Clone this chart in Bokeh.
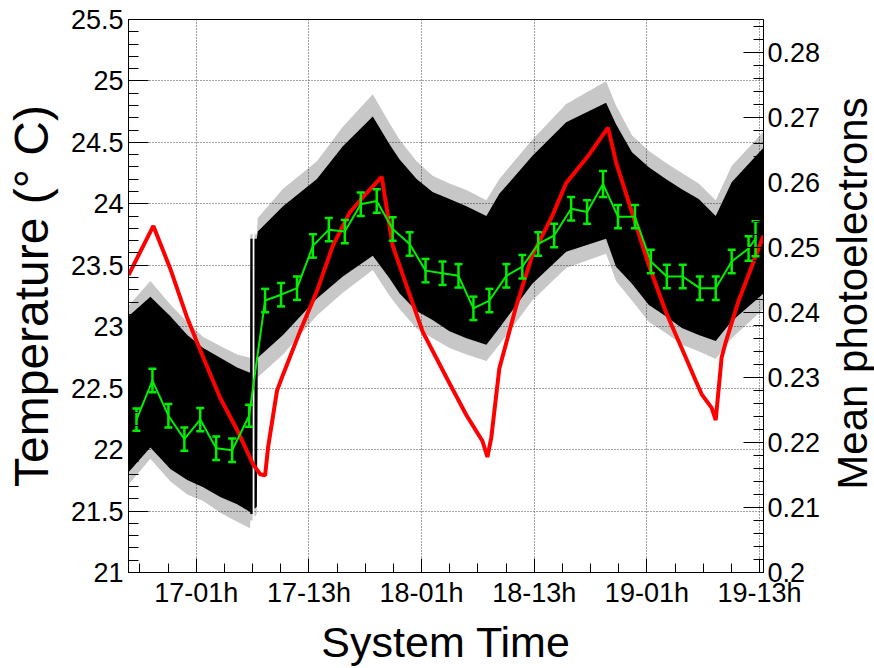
import numpy as np
from bokeh.plotting import figure
from bokeh.layouts import row
from bokeh.models import Range1d, LinearAxis, FixedTicker, ColumnDataSource, Label
from bokeh.embed import file_html
from bokeh.resources import INLINE

# ---------------- data (time in hours since day 16, 00h) ----------------
time_ticks = [25, 37, 49, 61, 73, 85]
time_tick_labels = ["17-01h", "17-13h", "18-01h", "18-13h", "19-01h", "19-13h"]
temp_ticks = [21, 21.5, 22, 22.5, 23, 23.5, 24, 24.5, 25, 25.5]
temp_tick_labels = ["21", "21.5", "22", "22.5", "23", "23.5", "24", "24.5", "25", "25.5"]
pe_ticks = [0.2, 0.21, 0.22, 0.23, 0.24, 0.25, 0.26, 0.27, 0.28]
pe_tick_labels = ["0.2", "0.21", "0.22", "0.23", "0.24", "0.25", "0.26", "0.27", "0.28"]

# black event cloud (mean photoelectrons per event): dense core and sparse fringe
band1_time = [17.78, 20.11, 22.24, 24.04, 25.74, 27.55, 29.35, 30.73, 30.76, 31.00]
band1_upper = [0.2394, 0.2424, 0.2394, 0.2365, 0.2345, 0.2330, 0.2315, 0.2307, 0.2513, 0.2513]
band1_lower = [0.2154, 0.2192, 0.2159, 0.2142, 0.2131, 0.2116, 0.2105, 0.2093, 0.2090, 0.2090]
band1_outer_upper = [0.2410, 0.2448, 0.2412, 0.2385, 0.2362, 0.2348, 0.2335, 0.2330, 0.2520, 0.2520]
band1_outer_lower = [0.2135, 0.2175, 0.2140, 0.2120, 0.2110, 0.2092, 0.2078, 0.2068, 0.2080, 0.2080]

band2_time = [31.20, 31.45, 31.55, 34.24, 37.85, 40.61, 43.80, 45.60, 46.66, 48.47, 50.17,
              51.97, 53.78, 55.90, 57.28, 60.79, 64.40, 68.65, 69.71, 71.41, 73.21, 75.02,
              76.72, 78.52, 80.33, 82.03, 85.42]
band2_upper = [0.2513, 0.2513, 0.2524, 0.2563, 0.2605, 0.2655, 0.2701, 0.2658, 0.2635, 0.2605,
               0.2585, 0.2574, 0.2563, 0.2548, 0.2582, 0.2640, 0.2692, 0.2722, 0.2689, 0.2646,
               0.2623, 0.2605, 0.2589, 0.2574, 0.2548, 0.2600, 0.2653]
band2_lower = [0.2098, 0.2101, 0.2330, 0.2365, 0.2421, 0.2455, 0.2487, 0.2452, 0.2429, 0.2402,
               0.2388, 0.2371, 0.2360, 0.2350, 0.2376, 0.2444, 0.2493, 0.2513, 0.2470, 0.2444,
               0.2411, 0.2394, 0.2376, 0.2365, 0.2356, 0.2386, 0.2429]
band2_outer_upper = [0.2520, 0.2520, 0.2545, 0.2590, 0.2632, 0.2685, 0.2735, 0.2690, 0.2665,
                     0.2632, 0.2610, 0.2598, 0.2588, 0.2572, 0.2605, 0.2665, 0.2720, 0.2755,
                     0.2718, 0.2672, 0.2648, 0.2630, 0.2614, 0.2598, 0.2572, 0.2625, 0.2678]
band2_outer_lower = [0.2085, 0.2090, 0.2300, 0.2335, 0.2395, 0.2430, 0.2465, 0.2425, 0.2405,
                     0.2375, 0.2360, 0.2345, 0.2335, 0.2325, 0.2350, 0.2418, 0.2468, 0.2490,
                     0.2448, 0.2418, 0.2385, 0.2368, 0.2350, 0.2340, 0.2328, 0.2360, 0.2405]

# temperature (red)
temp_time = [17.78, 20.43, 22.24, 24.04, 25.74, 27.55, 29.35, 31.05, 31.80, 32.33, 32.65,
             33.60, 34.24, 36.04, 37.85, 39.55, 41.35, 43.16, 44.75, 45.92, 47.41, 49.11,
             51.97, 53.78, 55.48, 56.01, 56.43, 57.28, 59.09, 60.79, 62.91, 64.40, 66.84,
             68.86, 69.71, 71.41, 73.21, 75.02, 77.14, 78.20, 78.84, 79.90, 80.33, 80.96,
             81.38, 82.76, 85.42]
temp_val = [23.42, 23.82, 23.47, 23.07, 22.75, 22.42, 22.16, 21.88, 21.80, 21.79, 22.02,
            22.48, 22.61, 22.96, 23.29, 23.66, 23.93, 24.09, 24.22, 23.66, 23.33, 22.96,
            22.54, 22.28, 22.07, 21.94, 22.10, 22.66, 23.17, 23.58, 23.90, 24.17, 24.40,
            24.62, 24.34, 23.93, 23.50, 23.12, 22.75, 22.56, 22.45, 22.34, 22.24, 22.75,
            22.87, 23.21, 23.74]

# binned mean photoelectrons (green, with errors)
pe_time = [18.63, 20.33, 22.03, 23.73, 25.42, 27.12, 28.82, 30.63, 32.33, 34.03, 35.73,
           37.42, 39.12, 40.82, 42.52, 44.22, 45.92, 47.73, 49.42, 51.23, 52.93, 54.52,
           56.22, 58.03, 59.73, 61.42, 63.12, 64.93, 66.63, 68.33, 69.92, 71.73, 73.42,
           75.12, 76.82, 78.63, 80.33, 82.03, 83.83, 84.57]
pe_mean = [0.2235, 0.2295, 0.2241, 0.2205, 0.2235, 0.2191, 0.2188, 0.2241, 0.2418, 0.2427,
           0.2437, 0.2502, 0.2527, 0.2524, 0.2566, 0.2571, 0.2528, 0.2505, 0.2464, 0.2460,
           0.2456, 0.2406, 0.2418, 0.2456, 0.2470, 0.2505, 0.2518, 0.2559, 0.2554, 0.2597,
           0.2547, 0.2547, 0.2478, 0.2455, 0.2455, 0.2437, 0.2437, 0.2478, 0.2498, 0.2513]
pe_err = [0.0017, 0.0018, 0.0018, 0.0018, 0.0018, 0.0018, 0.0018, 0.0017, 0.0018, 0.0018,
          0.0018, 0.0018, 0.0018, 0.0018, 0.0018, 0.0018, 0.0018, 0.0018, 0.0018, 0.0018,
          0.0018, 0.0018, 0.0018, 0.0018, 0.0018, 0.0018, 0.0018, 0.0018, 0.0018, 0.0020,
          0.0018, 0.0018, 0.0018, 0.0018, 0.0018, 0.0018, 0.0018, 0.0018, 0.0019, 0.0027]

# ---------------- main figure ----------------
FONT = "Liberation Sans"
p = figure(width=823, height=668, output_backend="svg", toolbar_location=None,
           x_range=Range1d(17.78, 85.42), y_range=Range1d(21, 25.5),
           min_border_left=128, min_border_right=58, min_border_top=19,
           min_border_bottom=92)
p.extra_y_ranges = {"pe": Range1d(0.2, 0.285)}
p.background_fill_color = "white"
p.border_fill_color = "white"
p.outline_line_color = "black"
p.outline_line_width = 1

# event cloud
for t, lo, hi in [(band1_time, band1_outer_lower, band1_outer_upper),
                  (band2_time, band2_outer_lower, band2_outer_upper)]:
    p.varea(x=t, y1=lo, y2=hi, fill_color="black", fill_alpha=0.22, y_range_name="pe")
for t, lo, hi in [(band1_time, band1_lower, band1_upper),
                  (band2_time, band2_lower, band2_upper)]:
    p.varea(x=t, y1=lo, y2=hi, fill_color="black", fill_alpha=1.0, y_range_name="pe")

# temperature
p.line(temp_time, temp_val, line_color="#ff0000", line_width=4)

# mean photoelectrons with error bars
GREEN = "#00ee00"
src = ColumnDataSource(dict(
    t=pe_time, m=pe_mean,
    lo=[m - e for m, e in zip(pe_mean, pe_err)],
    hi=[m + e for m, e in zip(pe_mean, pe_err)]))
p.line("t", "m", source=src, line_color=GREEN, line_width=2, y_range_name="pe")
p.segment(x0="t", y0="lo", x1="t", y1="hi", source=src, line_color=GREEN,
          line_width=2.5, y_range_name="pe")
p.scatter("t", "hi", source=src, marker="dash", size=8, line_color=GREEN,
          line_width=2.5, y_range_name="pe")
p.scatter("t", "lo", source=src, marker="dash", size=8, line_color=GREEN,
          line_width=2.5, y_range_name="pe")

# grid
for g in (p.xgrid, p.ygrid):
    g.grid_line_color = "#444444"
    g.grid_line_dash = "1 2"
    g.grid_line_width = 1

# bottom axis
xa = p.xaxis[0]
xa.ticker = FixedTicker(ticks=time_ticks, minor_ticks=list(np.arange(19, 86, 3)))
xa.major_label_overrides = {t: s for t, s in zip(time_ticks, time_tick_labels)}
xa.major_tick_in = 14
xa.major_tick_out = 0
xa.minor_tick_in = 9
xa.minor_tick_out = 0
xa.major_label_standoff = 5
xa.axis_label = "System Time"
xa.axis_label_text_font_size = "43px"
xa.axis_label_standoff = 7

# left axis
ya = p.yaxis[0]
ya.ticker = FixedTicker(ticks=temp_ticks,
                        minor_ticks=list(np.round(np.arange(21, 25.51, 0.1), 2)))
ya.major_label_overrides = {t: s for t, s in zip(temp_ticks, temp_tick_labels)}
ya.major_tick_in = 20
ya.major_tick_out = 0
ya.minor_tick_in = 10
ya.minor_tick_out = 0
ya.major_label_standoff = 5
ya.axis_label = "Temperature (° C)"
ya.axis_label_text_font_size = "48px"
ya.axis_label_standoff = 10

# right axis
ra = LinearAxis(y_range_name="pe",
                ticker=FixedTicker(ticks=pe_ticks,
                                   minor_ticks=list(np.round(np.arange(0.2, 0.2851, 0.002), 4))))
ra.major_label_overrides = {t: s for t, s in zip(pe_ticks, pe_tick_labels)}
ra.major_tick_in = 20
ra.major_tick_out = 0
ra.minor_tick_in = 10
ra.minor_tick_out = 0
ra.major_label_standoff = 4
p.add_layout(ra, "right")

for ax in (xa, ya, ra):
    ax.axis_line_color = "black"
    ax.major_tick_line_color = "black"
    ax.minor_tick_line_color = "black"
    ax.major_label_text_font = FONT
    ax.major_label_text_font_size = "27px"
    ax.major_label_text_color = "black"
    ax.axis_label_text_font = FONT
    ax.axis_label_text_font_style = "normal"
    ax.axis_label_text_color = "black"

# ---------------- right-hand title strip (title reads bottom-to-top) ----------------
# (the row aligns this strip's frame with the main plot's frame)
p2 = figure(width=51, height=668, output_backend="svg", toolbar_location=None,
            x_axis_type=None, y_axis_type=None, x_range=Range1d(0, 1), y_range=Range1d(0, 1),
            min_border=0)
p2.outline_line_color = None
p2.background_fill_color = "white"
p2.border_fill_color = "white"
p2.grid.visible = False
p2.add_layout(Label(x=29, y=279, x_units="screen", y_units="screen",
                    text="Mean photoelectrons", angle=np.pi / 2, text_font=FONT,
                    text_font_size="42px", text_align="center", text_baseline="alphabetic",
                    text_color="black"))

layout = row(p, p2, spacing=0)
open("out.html", "w").write(file_html(layout, INLINE))
